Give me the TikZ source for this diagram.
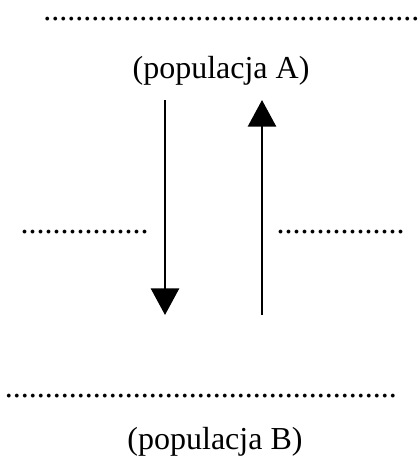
\documentclass[tikz,border=0pt]{standalone}
\usepackage{fontspec}
\setmainfont{Liberation Serif}
\usetikzlibrary{arrows.meta}

\newcommand{\kropki}[1]{\foreach \k in {1,...,#1}{.}}

\begin{document}
\begin{tikzpicture}[x=0.375pt, y=-0.375pt,
  dotline/.style={anchor=base west, inner sep=0pt, font=\fontsize{12}{14}\selectfont},
  popname/.style={anchor=base, inner sep=0pt, font=\fontsize{12}{14}\selectfont},
  flow/.style={line width=1.1pt, -{Triangle[width=10.5pt, length=10pt]}}]
\useasboundingbox (0,0) rectangle (419,461);

% rows of full stops to be filled in
\foreach \n/\x/\y/\k in {top/42.8/20.5/47, left/20/233.5/16, right/276/233.5/16, bot/4.3/397.5/49} {
    \node[dotline] (d\n) at (\x,\y) {\kropki{\k}};
}

% the two populations
\node[popname] (popA) at (221,78) {(populacja A)};
\node[popname] (popB) at (215,449) {(populacja B)};

% arrows between them
\coordinate (downS) at (165,100);
\coordinate (downE) at (165,315);
\coordinate (upS) at (262,315);
\coordinate (upE) at (262,100);
\draw[flow] (downS) -- (downE);
\draw[flow] (upS) -- (upE);
\end{tikzpicture}
\end{document}
